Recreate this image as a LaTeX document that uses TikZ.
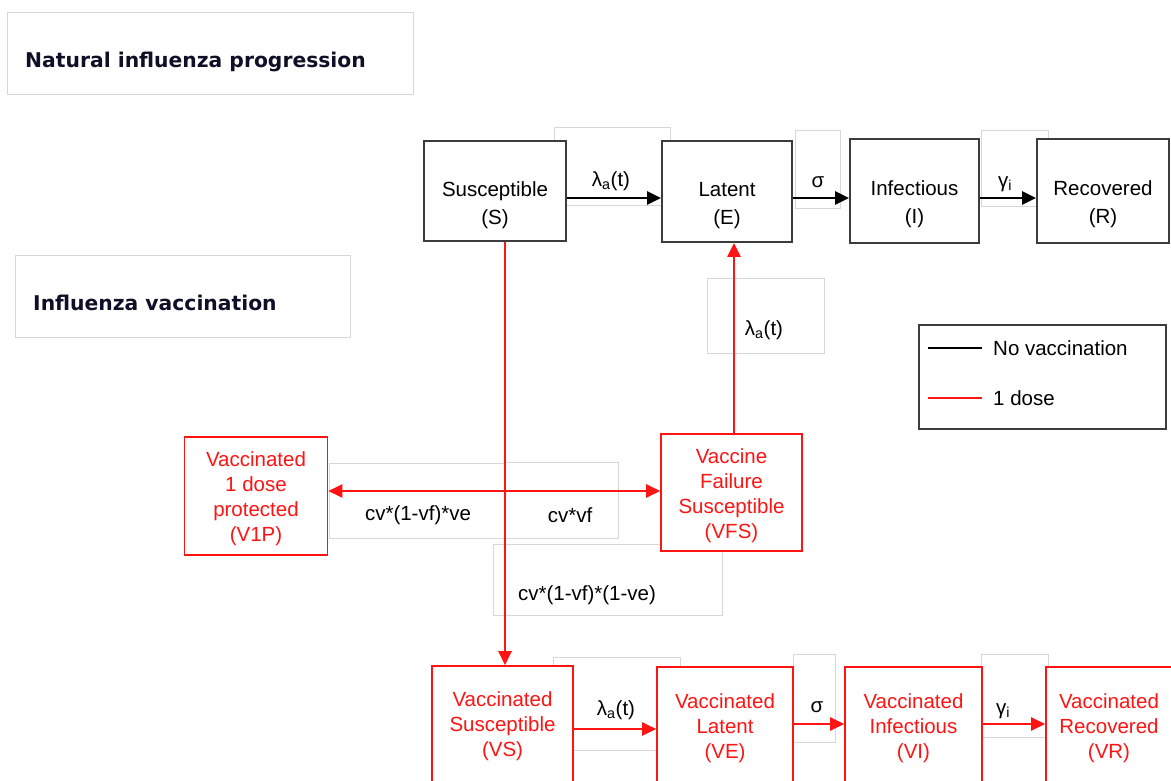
\documentclass[tikz,border=0pt]{standalone}
\usepackage{fontspec}
\setmainfont{Liberation Sans}
\newfontfamily\titlefont{DejaVu Sans}
\usetikzlibrary{arrows.meta}
\definecolor{boxgray}{RGB}{60,60,60}
\definecolor{faint}{RGB}{215,215,215}
\definecolor{vred}{RGB}{255,20,20}
\definecolor{navy}{RGB}{15,15,40}
\tikzset{
  bbox/.style={draw=boxgray, line width=1.8pt, fill=white, inner sep=0pt},
  rbox/.style={draw=vred, line width=1.6pt, fill=white, inner sep=0pt},
  lblbox/.style={draw=faint, line width=0.9pt, inner sep=0pt},
  txt/.style={align=center, inner sep=0pt, font=\fontsize{20.5}{25}\selectfont},
  ttxt/.style={txt, font=\fontsize{20.5}{28}\selectfont},
  rtxt/.style={txt, text=vred, font=\fontsize{20.5}{25}\selectfont},
  lbl/.style={inner sep=0pt, font=\fontsize{20.5}{25}\selectfont},
  title/.style={inner sep=0pt, anchor=west, text=navy, font=\titlefont\bfseries\fontsize{20.3}{24}\selectfont},
  barrow/.style={draw=black, line width=2.8pt, -{Triangle[length=14pt,width=13pt]}},
  rarrow/.style={draw=vred, line width=2.3pt, -{Triangle[length=14pt,width=13pt]}},
}
\begin{document}
\begin{tikzpicture}[x=1pt,y=-1pt]
\path[use as bounding box, fill=white] (0,0) rectangle (1171,781);
\clip (0,0) rectangle (1171,781);

% title boxes
\node[lblbox, minimum width=406, minimum height=82] (T1box) at (210,53) {};
\node[title] (T1) at (25,62) {Natural influenza progression};
\node[lblbox, minimum width=335, minimum height=82] (T2box) at (182.5,296) {};
\node[title] (T2) at (33,303) {Influenza vaccination};

% faint label boxes
\node[lblbox, minimum width=116, minimum height=78] (LB1) at (612,166) {};
\node[lblbox, minimum width=45, minimum height=78] (LB2) at (817.5,169) {};
\node[lblbox, minimum width=67, minimum height=76] (LB3) at (1014.5,168) {};
\node[lblbox, minimum width=117, minimum height=75] (LB4) at (765.5,315.5) {};
\node[lblbox, minimum width=206, minimum height=75] (LB5) at (432,500.5) {};
\node[lblbox, fill=white, minimum width=113, minimum height=76] (LB6) at (561.5,500) {};
\node[lblbox, minimum width=229, minimum height=71] (LB7) at (607.5,579.5) {};
\node[lblbox, minimum width=127, minimum height=93] (LB8) at (616.5,703.5) {};
\node[lblbox, minimum width=42, minimum height=88] (LB9) at (814,698) {};
\node[lblbox, minimum width=67, minimum height=83] (LB10) at (1014.5,695.5) {};

% connectors
\coordinate (sx) at (505,491);
\coordinate (fx) at (734,300);
\node[bbox, minimum width=142, minimum height=100] (S) at (495,191) {};
\node[bbox, minimum width=130, minimum height=101] (E) at (727,191.5) {};
\node[rbox, minimum width=141, minimum height=117] (VFS) at (731.5,492.5) {};
\node[rbox, minimum width=143, minimum height=118] (V1P) at (256,496) {};
\node[rbox, minimum width=141, minimum height=124] (VS) at (502.5,728) {};

\draw[rarrow] (S.south -| sx) -- (VS.north -| sx);
\draw[rarrow] (VFS.north -| fx) -- (E.south -| fx);
\draw[rarrow] (sx) -- (V1P.east |- sx);
\draw[rarrow] (sx) -- (VFS.west |- sx);

% top row
\node[bbox, minimum width=129, minimum height=104] (I) at (914.5,191) {};
\node[bbox, minimum width=132, minimum height=104] (R) at (1103,191) {};
\draw[barrow] (S.east |- 0,198) -- (E.west |- 0,198);
\draw[barrow] (E.east |- 0,198) -- (I.west |- 0,198);
\draw[barrow] (I.east |- 0,198) -- (R.west |- 0,198);
\node[ttxt] (St) at (495,205) {Susceptible\\(S)};
\node[ttxt] (Et) at (727,206) {Latent\\(E)};
\node[ttxt] (It) at (914.5,204.5) {Infectious\\(I)};
\node[ttxt] (Rt) at (1103,204.5) {Recovered\\(R)};

% bottom row
\node[rbox, minimum width=136, minimum height=124] (VE) at (725,729) {};
\node[rbox, minimum width=137, minimum height=124] (VI) at (913.5,729) {};
\node[rbox, minimum width=140, minimum height=124] (VR) at (1116,729) {};
\draw[rarrow] (VS.east |- 0,729) -- (VE.west |- 0,729);
\draw[rarrow] (VE.east |- 0,724) -- (VI.west |- 0,724);
\draw[rarrow] (VI.east |- 0,724) -- (VR.west |- 0,724);

% red texts
\node[rtxt] (V1Pt) at (256,499) {Vaccinated\\1 dose\\protected\\(V1P)};
\node[rtxt] (VFSt) at (731.5,496) {Vaccine\\Failure\\Susceptible\\(VFS)};
\node[rtxt] (VSt) at (502.5,726) {Vaccinated\\Susceptible\\(VS)};
\node[rtxt] (VEt) at (725,728) {Vaccinated\\Latent\\(VE)};
\node[rtxt] (VIt) at (913.5,728) {Vaccinated\\Infectious\\(VI)};
\node[rtxt] (VRt) at (1109,728) {Vaccinated\\Recovered\\(VR)};

% rate labels
\node[lbl] (l1) at (611,181) {λ\textsubscript{a}(t)};
\node[lbl] (l2) at (818,182) {σ};
\node[lbl] (l3) at (1005,184) {γ\textsubscript{i}};
\node[lbl] (l4) at (764,330) {λ\textsubscript{a}(t)};
\node[lbl] (l5) at (418,515) {cv*(1-vf)*ve};
\node[lbl] (l6) at (570,515) {cv*vf};
\node[lbl] (l7) at (587,595) {cv*(1-vf)*(1-ve)};
\node[lbl] (l8) at (616,710) {λ\textsubscript{a}(t)};
\node[lbl] (l9) at (817,707) {σ};
\node[lbl] (l10) at (1003,711) {γ\textsubscript{i}};

% legend
\node[draw=boxgray, line width=1.3pt, minimum width=247, minimum height=104, inner sep=0pt] (leg) at (1042.5,377) {};
\coordinate (k1a) at (928,348); \coordinate (k1b) at (982,348);
\coordinate (k2a) at (928,398); \coordinate (k2b) at (982,398);
\draw[black, line width=2.6pt] (k1a) -- (k1b);
\draw[vred, line width=2.6pt] (k2a) -- (k2b);
\node[lbl, anchor=west] (lg1) at (993,348) {No vaccination};
\node[lbl, anchor=west] (lg2) at (993,398) {1 dose};
\end{tikzpicture}
\end{document}
